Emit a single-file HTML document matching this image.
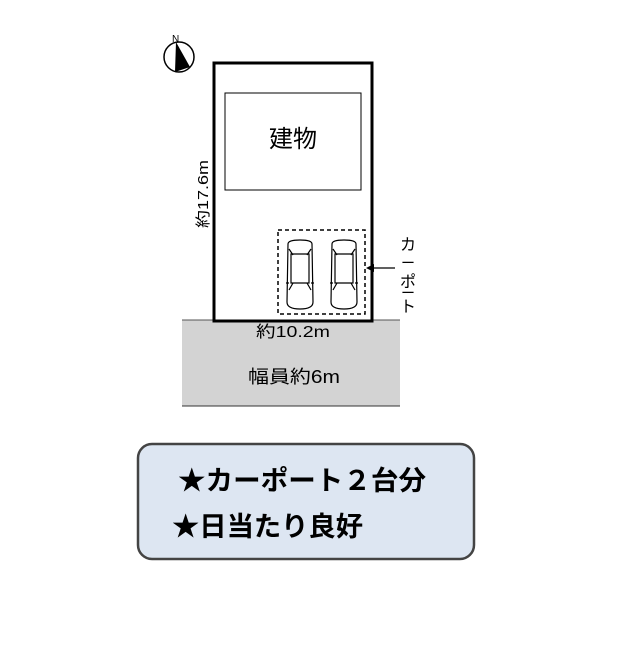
<!DOCTYPE html>
<html><head><meta charset="utf-8"><style>
body{margin:0;background:#fff;width:640px;height:640px;overflow:hidden}
text{font-family:"Liberation Sans","Noto Sans CJK JP",sans-serif}
</style></head><body>
<svg width="640" height="640" viewBox="0 0 640 640" xmlns="http://www.w3.org/2000/svg">
<rect x="182" y="320" width="218" height="86" fill="#d3d3d3"/>
<line x1="182" y1="406" x2="400" y2="406" stroke="#333" stroke-width="1"/>
<line x1="182" y1="320" x2="400" y2="320" stroke="#555" stroke-width="1"/>
<rect x="214" y="63" width="158" height="258" fill="#fff" stroke="#000" stroke-width="3"/>
<rect x="225" y="93" width="136" height="97" fill="#fff" stroke="#000" stroke-width="1"/>
<text x="269" y="147" font-size="24" textLength="48" lengthAdjust="spacingAndGlyphs">建物</text>
<text transform="translate(208,228) rotate(-90)" font-size="15" textLength="68" lengthAdjust="spacingAndGlyphs">約17.6m</text>
<rect x="278" y="230" width="87" height="84" fill="none" stroke="#000" stroke-width="1.5" stroke-dasharray="4,3"/>
<g fill="none" stroke="#000" stroke-width="1.2">
<g id="car">
<path d="M288,244 Q288,240 300,240 Q312,240 312,244 L313,302 Q313,309 300,309 Q287,309 287,302 Z"/>
<path d="M291,254 L309,254 L309,283 L291,283 Z"/>
<path d="M289,249 L293,255 M311,249 L307,255 M289,290 L293,283 M311,290 L307,283"/>
<path d="M286,283 L289,283 M311,283 L314,283"/>
</g>
<use href="#car" x="44"/>
</g>
<line x1="368" y1="268" x2="395" y2="268" stroke="#000" stroke-width="1.2"/>
<polygon points="366,268 374,264 374,272" fill="#000"/>
<text x="408" y="250" font-size="16" text-anchor="middle">カ</text>
<text x="408" y="268" font-size="14" text-anchor="middle">ー</text>
<text x="408" y="287" font-size="16" text-anchor="middle">ポ</text>
<text x="408" y="298" font-size="14" text-anchor="middle">ー</text>
<text x="408" y="312" font-size="16" text-anchor="middle">ト</text>
<text x="256" y="337" font-size="16" textLength="74" lengthAdjust="spacingAndGlyphs">約10.2m</text>
<text x="248" y="383" font-size="18" textLength="92" lengthAdjust="spacingAndGlyphs">幅員約6m</text>
<circle cx="179" cy="57" r="15" fill="#fff" stroke="#000" stroke-width="1.5"/>
<polygon points="176,42 175,72 190,67" fill="#000"/>
<text x="172" y="42" font-size="10">N</text>
<rect x="138" y="444" width="336" height="115" rx="14" fill="#dde6f2" stroke="#444" stroke-width="2.5"/>
<text x="178" y="490" font-size="27" font-weight="bold" textLength="248" lengthAdjust="spacingAndGlyphs">★カーポート２台分</text>
<text x="172" y="536" font-size="27" font-weight="bold" textLength="191" lengthAdjust="spacingAndGlyphs">★日当たり良好</text>
</svg>
</body></html>
